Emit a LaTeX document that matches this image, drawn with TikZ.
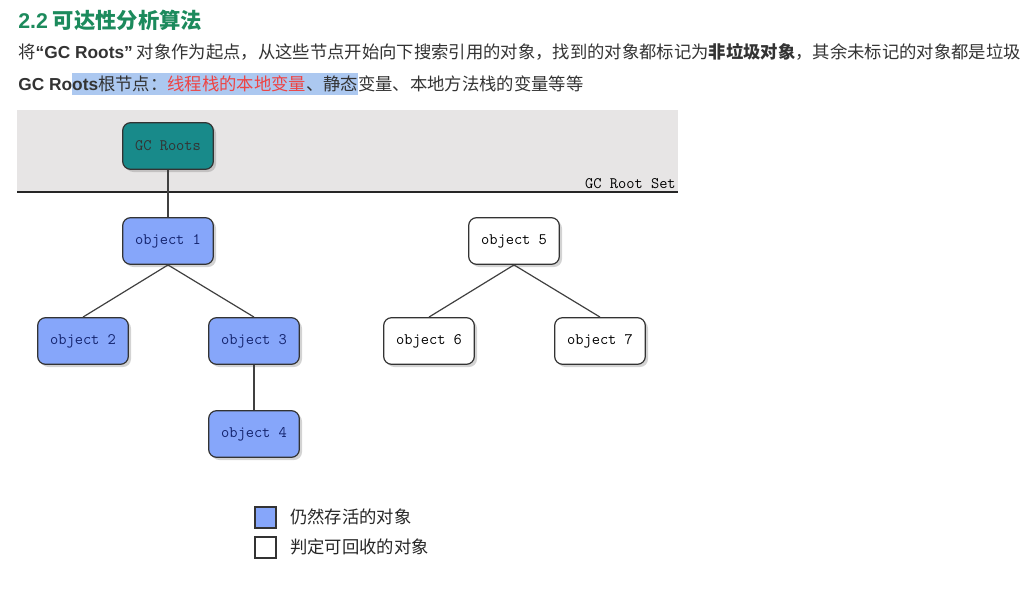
\documentclass[tikz,border=0pt]{standalone}
\usepackage{fontspec}
\setmainfont{Noto Sans CJK SC}
\newfontfamily\latinsf{Liberation Sans}
\usepackage{xcolor}
\usetikzlibrary{shadows}

\definecolor{headgreen}{RGB}{28,138,92}
\definecolor{bodygray}{RGB}{51,51,51}
\definecolor{markblue}{RGB}{172,200,240}
\definecolor{notered}{RGB}{238,68,68}
\definecolor{bandgray}{RGB}{231,229,229}
\definecolor{rootteal}{RGB}{24,138,138}
\definecolor{liveblue}{RGB}{134,166,250}
\definecolor{objtext}{RGB}{20,36,110}

\begin{document}
\begin{tikzpicture}[x=0.75pt,y=0.75pt,yscale=-1,xscale=1,
  objbox/.style={draw=black!80, line width=0.9pt, rounded corners=6pt, minimum width=68pt, minimum height=35pt, font=\ttfamily\fontsize{12}{14}\selectfont, drop shadow={shadow xshift=2pt, shadow yshift=-2pt, opacity=0.35}},
  liveobj/.style={objbox, fill=liveblue, text=objtext},
  deadobj/.style={objbox, fill=white, text=black},
  link/.style={draw=black!75, line width=0.9pt},
  txt/.style={anchor=west, inner sep=0pt, text=bodygray, font=\fontsize{13}{15}\selectfont},
  keybox/.style={draw=black!80, line width=1.1pt, minimum size=15.5pt, inner sep=0pt}]
\useasboundingbox (0,0) rectangle (1025,590);

% Text Node
\node[anchor=west, inner sep=0pt, text=headgreen, font=\bfseries\fontsize{16}{18}\selectfont] (title) at (18,20) {{\latinsf 2.2} 可达性分析算法};
% Text Node
\node[txt] (intro) at (18,52) {将{\latinsf\bfseries “GC Roots”} 对象作为起点，从这些节点开始向下搜索引用的对象，找到的对象都标记为\textbf{非垃圾对象}，其余未标记的对象都是垃圾};
%Shape: Rectangle (selection)
\fill[markblue] (72,73) rectangle (358,95);
% Text Node
\node[txt] (rootlist) at (18,84) {{\latinsf\bfseries GC Roots}根节点：\textcolor{notered}{线程栈的本地变量}、静态变量、本地方法栈的变量等等};

%Shape: Rectangle [root set band]
\fill[bandgray] (17,110) rectangle (678,192);
%Straight Lines
\draw[line width=1.5pt, black!85] (17,192) -- (678,192);
% Text Node
\node[anchor=south east, inner sep=0pt, font=\ttfamily\fontsize{12}{14}\selectfont] (rootset) at (676,189) {GC Root Set};

% Object nodes
\node[objbox, fill=rootteal, text=black!80] (root) at (168,146) {GC Roots};
\node[liveobj] (obj1) at (168,241) {object 1};
\node[liveobj] (obj2) at (83,341) {object 2};
\node[liveobj] (obj3) at (254,341) {object 3};
\node[liveobj] (obj4) at (254,434) {object 4};
\node[deadobj] (obj5) at (514,241) {object 5};
\node[deadobj] (obj6) at (429,341) {object 6};
\node[deadobj] (obj7) at (600,341) {object 7};

%Straight Lines
\draw[link] (root.south) -- (obj1.north);
\draw[link] (obj1.south) -- (obj2.north);
\draw[link] (obj1.south) -- (obj3.north);
\draw[link] (obj3.south) -- (obj4.north);
\draw[link] (obj5.south) -- (obj6.north);
\draw[link] (obj5.south) -- (obj7.north);

% Legend
\node[keybox, fill=liveblue] (keylive) at (265.5,517.5) {};
\node[keybox, fill=white] (keydead) at (265.5,547.5) {};
\node[txt, text=black!85] (livetxt) at (290,517) {仍然存活的对象};
\node[txt, text=black!85] (deadtxt) at (290,547) {判定可回收的对象};

\end{tikzpicture}
\end{document}
